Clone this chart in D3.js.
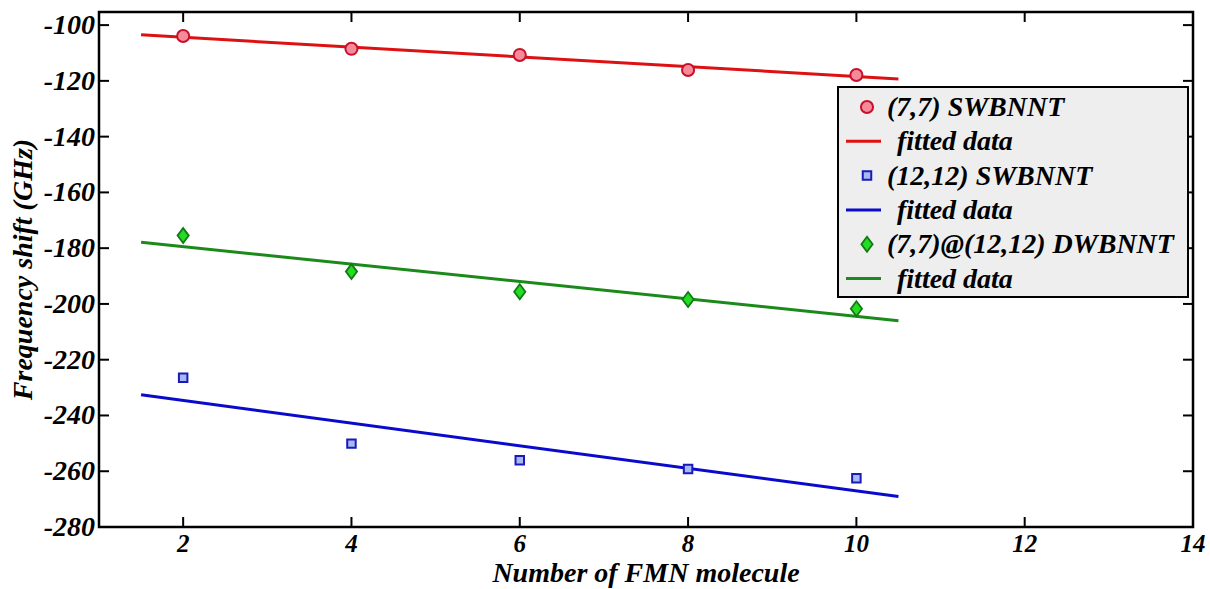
<!DOCTYPE html>
<html>
<head>
<meta charset="utf-8">
<script src="https://cdn.jsdelivr.net/npm/d3@7"></script>
</head>
<body style="margin:0">
<svg id="chart" width="1210" height="589"></svg>
<script>
// ---- data ----
const xValues = [2, 4, 6, 8, 10];
const swbnnt77 = [-103.9, -108.5, -110.7, -116.1, -117.9];
const swbnnt1212 = [-226.5, -250.1, -256.1, -259.2, -262.5];
const dwbnnt = [-175.5, -188.4, -195.6, -198.4, -201.7];
const fitX = [1.5, 10.5];
const fit77 = [-103.5, -119.3];
const fit1212 = [-232.6, -269.1];
const fitDw = [-177.9, -206.0];
const xTicks = [2, 4, 6, 8, 10, 12, 14];
const yTicks = [-100, -120, -140, -160, -180, -200, -220, -240, -260, -280];
const legendLabels = ["(7,7) SWBNNT", "fitted data", "(12,12) SWBNNT", "fitted data", "(7,7)@(12,12) DWBNNT", "fitted data"];
const xLabel = "Number of FMN molecule";
const yLabel = "Frequency shift (GHz)";

// ---- layout ----
const svg = d3.select("#chart");
const L = 99, R = 1193, T = 12, B = 527;
const x = d3.scaleLinear().domain([1, 14]).range([L, R]);
const y = d3.scaleLinear().domain([-280, -95.3]).range([B, T]);

function txt(parent, size) {
  return parent.append("text")
    .attr("font-family", "Liberation Serif")
    .attr("font-weight", "bold")
    .attr("font-style", "italic")
    .attr("font-size", size)
    .attr("fill", "#000");
}

const colors = {
  red:   { line: "#dd1111", fill: "#f58a9a", stroke: "#c8102a" },
  blue:  { line: "#0a0acc", fill: "#a8b8f4", stroke: "#1a1ab8" },
  green: { line: "#1b8a1b", fill: "#22dd22", stroke: "#127a12" }
};

// ticks (inward) on all four sides
const tickLen = 10;
const gTicks = svg.append("g").attr("stroke", "#000").attr("stroke-width", 2);
xTicks.forEach(t => {
  gTicks.append("line").attr("x1", x(t)).attr("x2", x(t)).attr("y1", B).attr("y2", B - tickLen);
  gTicks.append("line").attr("x1", x(t)).attr("x2", x(t)).attr("y1", T).attr("y2", T + tickLen);
});
yTicks.forEach(t => {
  gTicks.append("line").attr("x1", L).attr("x2", L + tickLen).attr("y1", y(t)).attr("y2", y(t));
  gTicks.append("line").attr("x1", R).attr("x2", R - tickLen).attr("y1", y(t)).attr("y2", y(t));
});

// tick labels
const gxl = svg.append("g");
xTicks.forEach(t => {
  txt(gxl, 25).attr("x", x(t)).attr("y", 552).attr("text-anchor", "middle").text(t);
});
const gyl = svg.append("g");
yTicks.forEach(t => {
  txt(gyl, 28).attr("x", 95).attr("y", y(t) + 9).attr("text-anchor", "end").text(t);
});

// axis labels
txt(svg, 28).attr("x", (L + R) / 2).attr("y", 582).attr("text-anchor", "middle").text(xLabel);
txt(svg, 28).attr("transform", `translate(32,${(T + B) / 2}) rotate(-90)`)
  .attr("text-anchor", "middle").text(yLabel);

// fitted lines
const line = d3.line().x(d => x(d[0])).y(d => y(d[1]));
function fitLine(vals, c) {
  svg.append("path").datum(fitX.map((v, i) => [v, vals[i]]))
    .attr("d", line).attr("fill", "none").attr("stroke", c.line).attr("stroke-width", 3);
}
fitLine(fit77, colors.red);
fitLine(fitDw, colors.green);
fitLine(fit1212, colors.blue);

// markers
const circleSym = d3.symbol().type(d3.symbolCircle).size(115);
const squareSym = d3.symbol().type(d3.symbolSquare).size(72);
function diamondPath(s) { return `M0,${-s}L${s * 0.75},0L0,${s}L${-s * 0.75},0Z`; }

svg.append("g").selectAll("path").data(xValues.map((v, i) => [v, swbnnt77[i]])).join("path")
  .attr("transform", d => `translate(${x(d[0])},${y(d[1])})`)
  .attr("d", circleSym).attr("fill", colors.red.fill).attr("stroke", colors.red.stroke).attr("stroke-width", 2);
svg.append("g").selectAll("path").data(xValues.map((v, i) => [v, swbnnt1212[i]])).join("path")
  .attr("transform", d => `translate(${x(d[0])},${y(d[1])})`)
  .attr("d", squareSym).attr("fill", colors.blue.fill).attr("stroke", colors.blue.stroke).attr("stroke-width", 2);
svg.append("g").selectAll("path").data(xValues.map((v, i) => [v, dwbnnt[i]])).join("path")
  .attr("transform", d => `translate(${x(d[0])},${y(d[1])})`)
  .attr("d", diamondPath(7.5)).attr("fill", colors.green.fill).attr("stroke", colors.green.stroke).attr("stroke-width", 1.8);

// axes box
svg.append("rect").attr("x", L).attr("y", T).attr("width", R - L).attr("height", B - T)
  .attr("fill", "none").attr("stroke", "#000").attr("stroke-width", 2.5);

// legend
const lg = svg.append("g");
lg.append("rect").attr("x", 838).attr("y", 87).attr("width", 350).attr("height", 210)
  .attr("fill", "#eeeeee").attr("stroke", "#000").attr("stroke-width", 2);
const rowY = i => 107 + i * 34.3;
const entryColors = [colors.red, colors.red, colors.blue, colors.blue, colors.green, colors.green];
legendLabels.forEach((lab, i) => {
  const c = entryColors[i];
  const yy = rowY(i);
  if (i % 2 === 1) {
    lg.append("line").attr("x1", 846).attr("x2", 881).attr("y1", yy).attr("y2", yy)
      .attr("stroke", c.line).attr("stroke-width", 3);
  } else if (i === 0) {
    lg.append("path").attr("transform", `translate(867,${yy})`).attr("d", circleSym)
      .attr("fill", c.fill).attr("stroke", c.stroke).attr("stroke-width", 2);
  } else if (i === 2) {
    lg.append("path").attr("transform", `translate(867,${yy})`).attr("d", squareSym)
      .attr("fill", c.fill).attr("stroke", c.stroke).attr("stroke-width", 2);
  } else {
    lg.append("path").attr("transform", `translate(867,${yy})`).attr("d", diamondPath(7.5))
      .attr("fill", c.fill).attr("stroke", c.stroke).attr("stroke-width", 1.8);
  }
  txt(lg, 28).attr("x", i % 2 === 1 ? 897 : 887).attr("y", yy + 9).text(lab);
});
</script>
</body>
</html>
